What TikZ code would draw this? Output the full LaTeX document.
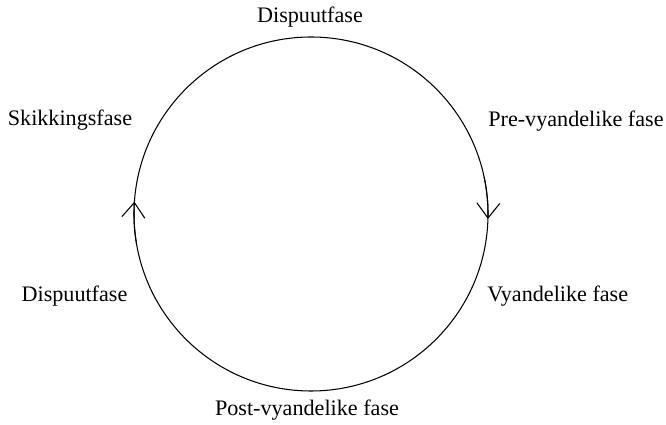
\documentclass[tikz,border=0pt]{standalone}
\usepackage{fontspec}
\setmainfont{Liberation Serif}
\usetikzlibrary{arrows.meta, positioning}

\begin{document}
\begin{tikzpicture}[
    phase/.style={inner sep=0pt, font=\fontsize{12.6}{15}\selectfont},
    cyc/.style={line width=0.6pt},
    tip/.style={line width=0.6pt, -{Straight Barb[length=0.3cm, width=0.46cm, line width=0.6pt]}}
]
    \useasboundingbox (-6.22,-4.22) rectangle (7.10,4.28);

    % Cycle
    \draw[cyc] (0,0) circle (3.54);
    \draw[tip] (12:3.54) arc (12:-1.6:3.54);
    \draw[tip] (190:3.54) arc (190:176:3.54);

    % Phases
    \node[phase] (dispuuttop) at (-0.02,3.94) {Dispuutfase};
    \node[phase, anchor=west] (prevyand) at (3.54,1.86) {Pre-vyandelike fase};
    \node[phase, anchor=west] (vyand) at (3.52,-1.64) {Vyandelike fase};
    \node[phase] (postvyand) at (-0.08,-3.92) {Post-vyandelike fase};
    \node[phase] (dispuutleft) at (-4.73,-1.64) {Dispuutfase};
    \node[phase] (skikking) at (-4.82,1.88) {Skikkingsfase};
\end{tikzpicture}
\end{document}
